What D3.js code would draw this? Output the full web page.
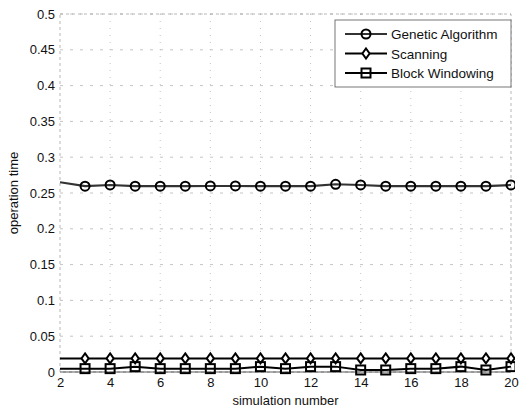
<!DOCTYPE html>
<html>
<head>
<meta charset="utf-8">
<script src="https://cdn.jsdelivr.net/npm/d3@7"></script>
<style>
  body { margin: 0; background: #fff; }
  svg { display: block; font-family: "Liberation Sans", Arial, sans-serif; }
</style>
</head>
<body>
<svg id="chart" width="527" height="409"></svg>
<script>
// data
const sim_num = [2, 3, 4, 5, 6, 7, 8, 9, 10, 11, 12, 13, 14, 15, 16, 17, 18, 19, 20];
const genetic = [0.265, 0.2595, 0.2612, 0.2595, 0.2595, 0.2595, 0.2598, 0.2598, 0.2595, 0.2595, 0.2595, 0.2622, 0.2612, 0.2595, 0.2595, 0.2595, 0.2595, 0.2595, 0.2612];
const scanning = [0.019, 0.019, 0.019, 0.019, 0.019, 0.019, 0.019, 0.019, 0.019, 0.019, 0.019, 0.019, 0.019, 0.019, 0.019, 0.019, 0.019, 0.019, 0.019];
const block_win = [0.0047, 0.0047, 0.0047, 0.0075, 0.0047, 0.0047, 0.0047, 0.0047, 0.0075, 0.0047, 0.0075, 0.0075, 0.0028, 0.0028, 0.0047, 0.0047, 0.0075, 0.0028, 0.0075];
const series_names = ['Genetic Algorithm', 'Scanning', 'Block Windowing'];
const x_ticks = [2, 4, 6, 8, 10, 12, 14, 16, 18, 20];
const y_ticks = [0, 0.05, 0.1, 0.15, 0.2, 0.25, 0.3, 0.35, 0.4, 0.45, 0.5];

// layout
const W = 527, H = 409;
const mar = {top: 14, right: 16, bottom: 37, left: 60};
const pw = W - mar.left - mar.right, ph = H - mar.top - mar.bottom;

const svg = d3.select('#chart');
const g = svg.append('g').attr('transform', `translate(${mar.left}, ${mar.top})`);

const x_scale = d3.scaleLinear().domain([2, 20]).range([0, pw]);
const y_scale = d3.scaleLinear().domain([0, 0.5]).range([ph, 0]);

// grid (faint dotted, like the scanned matlab grid)
g.append('g').attr('class', 'grid-x')
  .selectAll('line').data(x_ticks.slice(1, -1)).join('line')
  .attr('x1', d => x_scale(d)).attr('x2', d => x_scale(d))
  .attr('y1', 0).attr('y2', ph)
  .attr('stroke', '#b5b5b5').attr('stroke-width', 0.8)
  .attr('stroke-dasharray', '1,6');

g.append('g').attr('class', 'grid-y')
  .selectAll('line').data(y_ticks.slice(1)).join('line')
  .attr('x1', 0).attr('x2', pw)
  .attr('y1', d => y_scale(d)).attr('y2', d => y_scale(d))
  .attr('stroke', '#b5b5b5').attr('stroke-width', 0.8)
  .attr('stroke-dasharray', '3,7');

// axes
const ax_b = g.append('g').attr('transform', `translate(0, ${ph})`)
  .call(d3.axisBottom(x_scale).tickValues(x_ticks).tickSize(0).tickPadding(6).tickFormat(d3.format('d')));
const ax_l = g.append('g')
  .call(d3.axisLeft(y_scale).tickValues(y_ticks).tickSize(0).tickPadding(5).tickFormat(d => d === 0 ? '0' : d3.format('')(d)));
[ax_b, ax_l].forEach(a => {
  a.select('.domain').remove();
  a.selectAll('text').attr('font-size', 13).attr('fill', '#111')
    .attr('font-family', '"Liberation Sans", Arial, sans-serif');
});

// box
g.append('rect').attr('x', 0).attr('y', 0).attr('width', pw).attr('height', ph)
  .attr('fill', 'none').attr('stroke', '#999').attr('stroke-width', 0.7)
  .attr('stroke-dasharray', '3,3');
g.append('line').attr('x1', 0).attr('x2', pw).attr('y1', ph).attr('y2', ph)
  .attr('stroke', '#333').attr('stroke-width', 0.8);

// labels
svg.append('text').attr('x', mar.left + pw / 2).attr('y', H - 4)
  .attr('text-anchor', 'middle').attr('font-size', 13).attr('fill', '#111')
  .text('simulation number');
svg.append('text')
  .attr('transform', `translate(18, ${mar.top + ph / 2}) rotate(-90)`)
  .attr('text-anchor', 'middle').attr('font-size', 13).attr('fill', '#111')
  .text('operation time');

// markers
const marker = {
  circle: (sel) => sel.append('circle').attr('r', 4.5),
  diamond: (sel) => sel.append('path').attr('d', 'M0,-5L3.6,0L0,5L-3.6,0Z'),
  square: (sel) => sel.append('rect').attr('x', -4.5).attr('y', -4.5).attr('width', 9).attr('height', 9)
};

const series = [
  {name: series_names[0], vals: genetic, color: '#333', width: 2.2, mk: 'circle', mk_fill: 'none'},
  {name: series_names[1], vals: scanning, color: '#000', width: 2, mk: 'diamond', mk_fill: '#fff'},
  {name: series_names[2], vals: block_win, color: '#000', width: 2, mk: 'square', mk_fill: 'none'}
];

const line_gen = d3.line().x(d => x_scale(d.x)).y(d => y_scale(d.y));
svg.append('defs').append('clipPath').attr('id', 'plot-clip')
  .append('rect').attr('x', 0).attr('y', -10).attr('width', pw + 4).attr('height', ph + 20);

const layer = g.append('g').attr('clip-path', 'url(#plot-clip)');
series.forEach(s => {
  const pts = sim_num.map((x, i) => ({x: x, y: s.vals[i]}));
  layer.append('path').attr('d', line_gen(pts))
    .attr('fill', 'none').attr('stroke', s.color).attr('stroke-width', s.width);
  pts.slice(1).forEach(p => {
    const m = layer.append('g').attr('transform', `translate(${x_scale(p.x)}, ${y_scale(p.y)})`);
    marker[s.mk](m).attr('fill', s.mk_fill).attr('stroke', '#000').attr('stroke-width', 2);
  });
});

// legend
const lg = svg.append('g').attr('transform', 'translate(335, 20)');
lg.append('rect').attr('x', 0).attr('y', 0).attr('width', 176).attr('height', 67)
  .attr('fill', '#fff').attr('stroke', '#555').attr('stroke-width', 0.8);
series.forEach((s, i) => {
  const yy = 14 + i * 19.5;
  lg.append('line').attr('x1', 10).attr('x2', 52).attr('y1', yy).attr('y2', yy)
    .attr('stroke', s.color).attr('stroke-width', s.width);
  const m = lg.append('g').attr('transform', `translate(31, ${yy})`);
  marker[s.mk](m).attr('fill', s.mk_fill).attr('stroke', '#000').attr('stroke-width', 2);
  lg.append('text').attr('x', 56).attr('y', yy + 5)
    .attr('font-size', 13.5).attr('fill', '#111').text(s.name);
});
</script>
</body>
</html>
